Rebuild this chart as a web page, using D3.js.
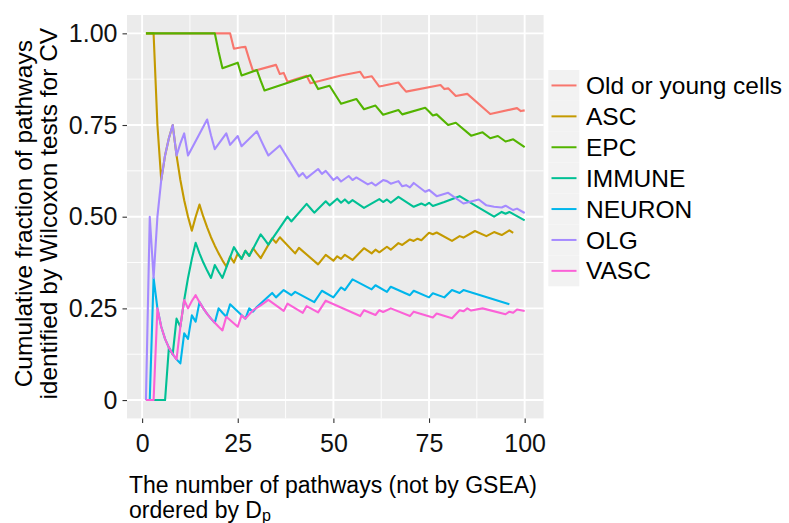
<!DOCTYPE html>
<html><head><meta charset="utf-8">
<script src="https://cdn.jsdelivr.net/npm/d3@7"></script>
<style>
body{margin:0;background:#fff;}
text{font-family:"Liberation Sans",Arial,Helvetica,sans-serif;}
</style></head>
<body><svg id="chart" width="789" height="523"></svg>
<script>
// ---- data ----
const seriesNames = ["Old or young cells","ASC","EPC","IMMUNE","NEURON","OLG","VASC"];
const seriesColors = ["#F8766D","#C49A00","#53B400","#00C094","#00B6EB","#A58AFF","#FB61D7"];
const xTickValues = [0,25,50,75,100];
const xTickLabels = ["0","25","50","75","100"];
const yTickValues = [0,0.25,0.5,0.75,1];
const yTickLabels = ["0","0.25","0.50","0.75","1.00"];

const oldYoung = [[1,1],[23,1],[24,0.958],[25,0.96],[26,0.962],[27,0.963],[28,0.929],[29,0.897],[35,0.914],[36,0.889],[37,0.892],[38,0.868],[43,0.884],[44,0.864],[52,0.885],[57,0.895],[58,0.879],[59,0.881],[60,0.883],[61,0.869],[62,0.855],[63,0.857],[67,0.866],[68,0.853],[69,0.841],[78,0.859],[79,0.848],[80,0.85],[82,0.829],[85,0.835],[91,0.78],[98,0.796],[99,0.788],[100,0.79]];
const asc = [[1,1],[3,1],[4,0.75],[5,0.6],[6,0.667],[7,0.714],[8,0.75],[9,0.667],[10,0.6],[11,0.545],[12,0.5],[13,0.462],[14,0.5],[15,0.533],[16,0.5],[17,0.471],[18,0.444],[19,0.421],[20,0.4],[21,0.381],[22,0.364],[23,0.391],[24,0.375],[25,0.4],[26,0.385],[27,0.407],[28,0.393],[29,0.414],[30,0.4],[31,0.387],[34,0.441],[35,0.429],[36,0.444],[40,0.4],[41,0.415],[46,0.37],[48,0.396],[50,0.38],[51,0.392],[52,0.385],[53,0.396],[55,0.382],[58,0.414],[60,0.4],[61,0.41],[62,0.403],[64,0.418],[65,0.41],[67,0.428],[68,0.423],[70,0.438],[71,0.434],[72,0.44],[73,0.436],[75,0.456],[76,0.452],[77,0.457],[81,0.434],[83,0.447],[84,0.443],[87,0.461],[90,0.447],[92,0.458],[94,0.45],[96,0.463],[97,0.456]];
const epc = [[1,1],[19,1],[20,0.95],[21,0.905],[25,0.92],[26,0.885],[30,0.9],[31,0.871],[32,0.844],[44,0.886],[45,0.867],[46,0.848],[49,0.857],[52,0.808],[56,0.821],[58,0.793],[61,0.803],[63,0.778],[67,0.791],[68,0.779],[74,0.797],[75,0.787],[76,0.776],[77,0.779],[80,0.75],[82,0.756],[86,0.721],[89,0.73],[91,0.714],[93,0.72],[95,0.705],[97,0.711],[100,0.69]];
const immune = [[1,0],[6,0],[7,0.143],[8,0.125],[9,0.222],[10,0.2],[11,0.273],[12,0.333],[13,0.385],[14,0.429],[15,0.4],[16,0.375],[17,0.353],[18,0.333],[19,0.368],[20,0.35],[21,0.333],[24,0.417],[25,0.4],[26,0.385],[27,0.407],[28,0.393],[31,0.452],[32,0.438],[33,0.424],[38,0.5],[39,0.487],[43,0.535],[44,0.523],[45,0.511],[48,0.542],[49,0.531],[51,0.549],[52,0.538],[53,0.547],[54,0.537],[55,0.545],[58,0.524],[62,0.548],[63,0.54],[64,0.547],[65,0.538],[67,0.554],[71,0.527],[73,0.536],[74,0.531],[75,0.538],[76,0.529],[79,0.54],[83,0.556],[87,0.531],[92,0.5],[94,0.513],[95,0.508],[96,0.513],[100,0.49]];
const neuron = [[1,0],[2,0],[3,0.333],[4,0.25],[5,0.2],[6,0.167],[7,0.143],[8,0.125],[9,0.111],[10,0.1],[11,0.182],[12,0.167],[13,0.231],[14,0.214],[15,0.267],[16,0.25],[17,0.235],[18,0.222],[19,0.211],[20,0.25],[21,0.238],[22,0.227],[23,0.261],[27,0.222],[28,0.25],[29,0.241],[30,0.254],[34,0.292],[35,0.28],[37,0.3],[39,0.286],[40,0.295],[45,0.267],[47,0.298],[50,0.28],[52,0.307],[53,0.3],[55,0.329],[60,0.302],[61,0.313],[64,0.295],[65,0.309],[70,0.286],[71,0.298],[75,0.28],[76,0.291],[79,0.28],[81,0.3],[83,0.292],[84,0.3],[96,0.261]];
const olg = [[1,0],[2,0.5],[3,0.333],[4,0.5],[5,0.6],[6,0.667],[7,0.714],[8,0.75],[9,0.667],[10,0.7],[11,0.727],[12,0.667],[17,0.765],[18,0.722],[19,0.684],[22,0.727],[23,0.696],[25,0.72],[26,0.692],[30,0.733],[31,0.71],[32,0.688],[33,0.667],[36,0.694],[41,0.61],[42,0.619],[43,0.605],[46,0.63],[47,0.617],[48,0.625],[50,0.6],[51,0.608],[52,0.596],[54,0.611],[55,0.6],[56,0.607],[59,0.588],[60,0.593],[61,0.585],[63,0.6],[64,0.597],[65,0.59],[67,0.597],[68,0.583],[69,0.586],[70,0.58],[71,0.592],[74,0.568],[75,0.573],[77,0.556],[80,0.565],[84,0.536],[88,0.547],[90,0.531],[92,0.527],[94,0.525],[95,0.53],[97,0.518],[98,0.522],[100,0.51]];
const vasc = [[1,0],[3,0],[4,0.25],[5,0.2],[6,0.167],[7,0.143],[8,0.125],[9,0.111],[10,0.2],[11,0.273],[12,0.25],[13,0.27],[14,0.286],[15,0.267],[16,0.25],[17,0.235],[18,0.222],[19,0.211],[20,0.2],[21,0.19],[22,0.227],[25,0.2],[26,0.231],[27,0.222],[29,0.245],[31,0.258],[33,0.273],[37,0.243],[38,0.263],[42,0.238],[43,0.256],[46,0.239],[48,0.271],[57,0.229],[58,0.245],[61,0.232],[62,0.245],[63,0.24],[65,0.25],[70,0.229],[71,0.241],[76,0.225],[77,0.236],[81,0.223],[83,0.245],[84,0.242],[85,0.25],[86,0.244],[89,0.25],[95,0.234],[96,0.241],[97,0.238],[98,0.247],[100,0.243]];

const seriesData = [oldYoung, asc, epc, immune, neuron, olg, vasc];

// ---- layout ----
const svg = d3.select("#chart");
const P = {left:127, right:543.6, top:15, bottom:418.4};
const x = d3.scaleLinear().domain([-3.95,104.95]).range([P.left,P.right]);
const y = d3.scaleLinear().domain([-0.05,1.05]).range([P.bottom,P.top]);
const FS = 24.5;

svg.append("rect").attr("x",P.left).attr("y",P.top)
  .attr("width",P.right-P.left).attr("height",P.bottom-P.top).attr("fill","#EBEBEB");

const g = svg.append("g");
[12.5,37.5,62.5,87.5].forEach(v=>g.append("line").attr("x1",x(v)).attr("x2",x(v)).attr("y1",P.top).attr("y2",P.bottom).attr("stroke","#fff").attr("stroke-width",0.9));
[0.125,0.375,0.625,0.875].forEach(v=>g.append("line").attr("y1",y(v)).attr("y2",y(v)).attr("x1",P.left).attr("x2",P.right).attr("stroke","#fff").attr("stroke-width",0.9));
xTickValues.forEach(v=>g.append("line").attr("x1",x(v)).attr("x2",x(v)).attr("y1",P.top).attr("y2",P.bottom).attr("stroke","#fff").attr("stroke-width",1.9));
yTickValues.forEach(v=>g.append("line").attr("y1",y(v)).attr("y2",y(v)).attr("x1",P.left).attr("x2",P.right).attr("stroke","#fff").attr("stroke-width",1.9));

const line = d3.line().x(d=>x(d[0])).y(d=>y(d[1]));
seriesData.forEach((s,i)=>{
  svg.append("path").datum(s).attr("d",line).attr("fill","none")
    .attr("stroke",seriesColors[i]).attr("stroke-width",2.1).attr("stroke-linejoin","round");
});

const xAxis = d3.axisBottom(x).tickValues(xTickValues).tickFormat((d,i)=>xTickLabels[i]).tickSize(4.5).tickPadding(11);
const xg = svg.append("g").attr("transform",`translate(0,${P.bottom})`).call(xAxis);
xg.select(".domain").remove();
xg.selectAll("line").attr("stroke","#333").attr("stroke-width",1.1);
xg.selectAll("text").attr("font-size",25).attr("fill","#111").attr("font-family","Liberation Sans, Arial, sans-serif");

const yAxis = d3.axisLeft(y).tickValues(yTickValues).tickFormat((d,i)=>yTickLabels[i]).tickSize(4.5).tickPadding(5);
const yg = svg.append("g").attr("transform",`translate(${P.left},0)`).call(yAxis);
yg.select(".domain").remove();
yg.selectAll("line").attr("stroke","#333").attr("stroke-width",1.1);
yg.selectAll("text").attr("font-size",25).attr("fill","#111").attr("font-family","Liberation Sans, Arial, sans-serif");

// x title
const xFS = 23;
svg.append("text").attr("x",129).attr("y",493).attr("font-size",xFS).attr("fill","#000")
  .text("The number of pathways (not by GSEA)");
const xt2 = svg.append("text").attr("x",129).attr("y",518).attr("font-size",xFS).attr("fill","#000");
xt2.append("tspan").text("ordered by D");
xt2.append("tspan").attr("font-size",xFS*0.7).attr("dy",3).text("p");

// y title
const yt = svg.append("g").attr("transform",`translate(0,${(P.top+P.bottom)/2 - 3}) rotate(-90)`);
yt.append("text").attr("x",0).attr("y",32).attr("text-anchor","middle").attr("font-size",FS).attr("fill","#000")
  .text("Cumulative fraction of pathways");
yt.append("text").attr("x",0).attr("y",57).attr("text-anchor","middle").attr("font-size",FS).attr("fill","#000")
  .text("identified by Wilcoxon tests for CV");

// legend
const lg = svg.append("g");
const keyH = 30.9, keyTop = 70;
seriesNames.forEach((nm,i)=>{
  const cy = keyTop + keyH*i + keyH/2;
  lg.append("rect").attr("x",548.3).attr("y",keyTop+keyH*i).attr("width",31).attr("height",keyH).attr("fill","#F2F2F2");
  lg.append("line").attr("x1",551.5).attr("x2",576.5).attr("y1",cy).attr("y2",cy).attr("stroke",seriesColors[i]).attr("stroke-width",2);
  lg.append("text").attr("x",586).attr("y",cy).attr("dy","0.35em").attr("font-size",FS).attr("fill","#000").text(nm);
});
</script></body></html>
